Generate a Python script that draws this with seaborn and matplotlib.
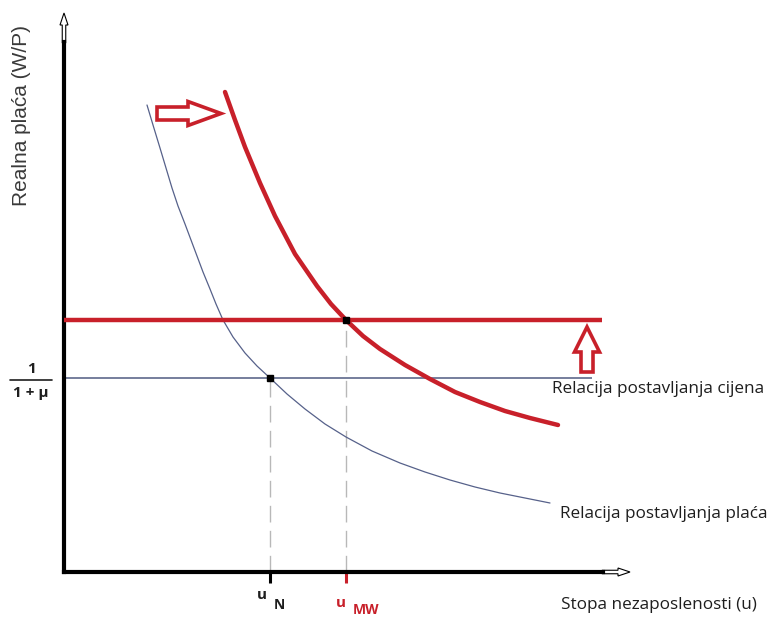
import numpy as np
import pandas as pd
import matplotlib.pyplot as plt
import seaborn as sns
from matplotlib.patches import FancyArrow

# wage-setting relation (thin blue curve)
ws_u = [8.3, 8.9, 9.6, 10.2, 10.8, 11.4, 12.1, 12.7, 13.3, 13.9, 14.6, 15.2, 15.9, 16.9, 18.1,
        19.3, 20.6, 22.3, 24.1, 26.1, 28.2, 30.8, 33.6, 36.1, 38.6, 41.1, 43.6, 46.1, 48.6]
ws_w = [46.7, 44.7, 42.4, 40.4, 38.4, 36.6, 34.8, 33.2, 31.6, 30.0, 28.3, 26.8, 25.2, 23.5, 21.9,
        20.6, 19.4, 17.8, 16.3, 14.8, 13.5, 12.1, 10.9, 10.0, 9.2, 8.5, 7.9, 7.4, 6.9]

# shifted wage-setting relation with minimum wage (thick red curve)
mw_u = [16.1, 17.1, 18.1, 19.6, 21.1, 23.1, 25.3, 26.7, 28.2, 29.9, 31.6, 34.1, 36.6, 39.1,
        41.6, 44.1, 46.6, 49.4]
mw_w = [48.0, 45.2, 42.5, 38.9, 35.6, 31.8, 28.6, 26.8, 25.2, 23.6, 22.3, 20.7, 19.3, 18.0,
        17.0, 16.1, 15.4, 14.7]

# price-setting levels
ps_w = 19.4      # 1/(1+mu)
ps_w_new = 25.2  # raised line
ps_end = 52.8
ps_new_end = 53.8

u_N = 20.6
u_MW = 28.2

red = '#c8202a'
blue = '#56618a'
ink = '#1e1e1e'

sns.set_theme(style='white')
plt.rcParams['font.family'] = ['Open Sans', 'DejaVu Sans']

fig = plt.figure(figsize=(7.69, 6.2), dpi=100)
ax = fig.add_axes([64 / 769, 48 / 620, 600 / 769, 570 / 620])
ax.set_xlim(0, 60)
ax.set_ylim(0, 57)

ws = pd.DataFrame({'u': ws_u, 'w': ws_w})
mw = pd.DataFrame({'u': mw_u, 'w': mw_w})

# dashed guides
ax.vlines([u_N], 0, ps_w, color='#b8b8b8', lw=1, linestyles=(0, (12, 6)), zorder=1)
ax.vlines([u_MW], 0, ps_w_new, color='#b8b8b8', lw=1, linestyles=(0, (12, 6)), zorder=1)

# horizontal price-setting lines
ax.hlines(ps_w, 0, ps_end, color='#6a7494', lw=1.3, zorder=2)
ax.hlines(ps_w_new, 0, ps_new_end, color=red, lw=3.2, zorder=3)

sns.lineplot(data=ws, x='u', y='w', sort=False, color=blue, lw=0.9, ax=ax, zorder=2,
             solid_joinstyle='round')
sns.lineplot(data=mw, x='u', y='w', sort=False, color=red, lw=3.2, ax=ax, zorder=3,
             solid_joinstyle='round', solid_capstyle='round')

# equilibrium points
ax.plot([u_N, u_MW], [ps_w, ps_w_new], 's', color='black', ms=4, zorder=5)

# shift arrows
ax.add_patch(FancyArrow(9.3, 45.85, 6.4, 0, width=1.3, head_width=2.4, head_length=3.3,
                        length_includes_head=True, fill=False, ec=red, lw=2.6, zorder=4))
ax.add_patch(FancyArrow(52.3, 20.0, 0, 4.5, width=1.2, head_width=2.5, head_length=2.5,
                        length_includes_head=True, fill=False, ec=red, lw=2.6, zorder=4))

# axes
sns.despine(ax=ax)
for side in ['left', 'bottom']:
    ax.spines[side].set_linewidth(3)
    ax.spines[side].set_color('black')
    ax.spines[side].set_capstyle('projecting')
ax.spines['left'].set_bounds(0, 53)
ax.spines['bottom'].set_bounds(0, 53.9)
ax.add_patch(FancyArrow(0, 52.9, 0, 3.0, width=0.35, head_width=0.8, head_length=1.2,
                        length_includes_head=True, fc='white', ec='black', lw=0.8, clip_on=False))
ax.add_patch(FancyArrow(53.8, 0, 2.8, 0, width=0.35, head_width=0.8, head_length=1.2,
                        length_includes_head=True, fc='white', ec='black', lw=0.8, clip_on=False))

ax.set_xticks([])
ax.set_yticks([])
ax.set_xlabel('')
ax.set_ylabel('')

# tick marks below the axis
ax.vlines([u_N], -1.1, 0, color='black', lw=2.2, clip_on=False)
ax.vlines([u_MW], -1.1, 0, color=red, lw=2.2, clip_on=False)

# tick labels
ax.text(19.8, -2.3, 'u', fontsize=11, fontweight='bold', color=ink, ha='center', va='center', clip_on=False)
ax.text(21.5, -3.3, 'N', fontsize=10, fontweight='bold', color=ink, ha='center', va='center', clip_on=False)
ax.text(27.7, -3.1, 'u', fontsize=11, fontweight='bold', color=red, ha='center', va='center', clip_on=False)
ax.text(30.2, -3.8, 'MW', fontsize=10, fontweight='bold', color=red, ha='center', va='center', clip_on=False)

# fraction 1/(1+mu)
ax.text(-3.3, 20.3, '1', fontsize=11, fontweight='bold', color=ink, ha='center', va='center', clip_on=False)
ax.plot([-5.4, -1.2], [19.2, 19.2], color=ink, lw=1.2, clip_on=False)
ax.text(-3.3, 17.9, '1 + μ', fontsize=11, fontweight='bold', color=ink, ha='center', va='center', clip_on=False)

ax.text(-4.2, 45.7, 'Realna plaća (W/P)', rotation=90, fontsize=15, color='#3a3a3a',
        family=['Liberation Sans', 'DejaVu Sans'], ha='center', va='center', clip_on=False)
ax.text(48.8, 18.3, 'Relacija postavljanja cijena', fontsize=12.3, color=ink,
        ha='left', va='center', clip_on=False)
ax.text(49.6, 5.8, 'Relacija postavljanja plaća', fontsize=12.3, color=ink,
        ha='left', va='center', clip_on=False)
ax.text(49.7, -3.3, 'Stopa nezaposlenosti (u)', fontsize=12.3, color=ink,
        ha='left', va='center', clip_on=False)

fig.savefig('out.png', dpi=100)
